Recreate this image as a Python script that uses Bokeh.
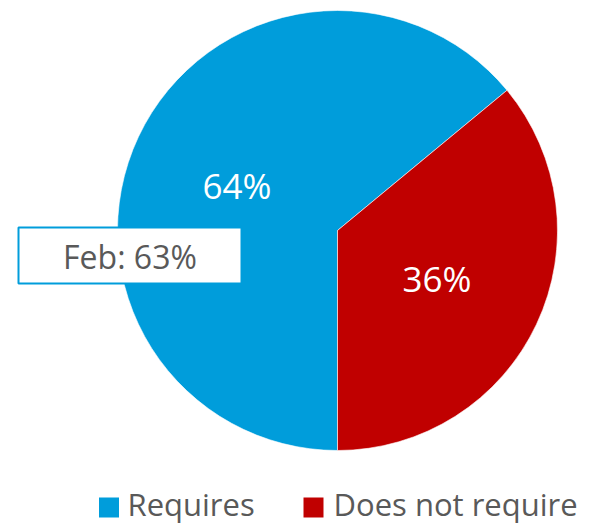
import math
from bokeh.plotting import figure
from bokeh.models import Range1d, ColumnDataSource
from bokeh.core.properties import value
from bokeh.embed import file_html
from bokeh.resources import INLINE

# ---- data ----
categories = ["Requires", "Does not require"]
shares = [64, 36]
slice_labels = ["64%", "36%"]
colors = ["#009DDB", "#C00000"]
callout_text = "Feb: 63%"

FONT = "Open Sans"
W, H = 590, 526

p = figure(width=W, height=H, output_backend="svg", toolbar_location=None,
           x_range=Range1d(0, W), y_range=Range1d(0, H),
           min_border=0, outline_line_color=None, background_fill_color="white")
p.axis.visible = False
p.grid.visible = False

def sy(y):
    return H - y

cx, cy, r = 337, sy(230), 220
total = sum(shares)
start = -math.pi / 2
starts, ends = [], []
acc = 0
for s in shares:
    a0 = start - 2 * math.pi * acc / total
    acc += s
    a1 = start - 2 * math.pi * acc / total
    starts.append(a0)
    ends.append(a1)

src = ColumnDataSource(dict(start=starts, end=ends, color=colors, cat=categories))
p.wedge(x=cx, y=cy, radius=r, start_angle="start", end_angle="end",
        direction="clock", fill_color="color", line_color="white",
        line_width=0.6, source=src)

# slice labels
p.text(x=[236.5, 436.5], y=[sy(184.5), sy(278)], text=slice_labels,
       text_font=value(FONT), text_font_size="35px", text_color="white",
       text_align="center", text_baseline="middle")

# callout box
p.rect(x=[129.5], y=[sy(255)], width=223, height=56, fill_color="white",
       line_color="#009DDB", line_width=2)
p.text(x=[129.5], y=[sy(256)], text=[callout_text], text_font=value(FONT),
       text_font_size="32px", text_color="#595959", text_align="center",
       text_baseline="middle")

# legend
p.rect(x=[108.5, 313], y=[sy(507), sy(507)], width=20, height=20,
       fill_color=colors, line_color=None)
p.text(x=[127, 333], y=[sy(503.5), sy(503.5)], text=categories,
       text_font=value(FONT), text_font_size="31px", text_color="#595959",
       text_align="left", text_baseline="middle")

open("out.html", "w").write(file_html(p, INLINE))
